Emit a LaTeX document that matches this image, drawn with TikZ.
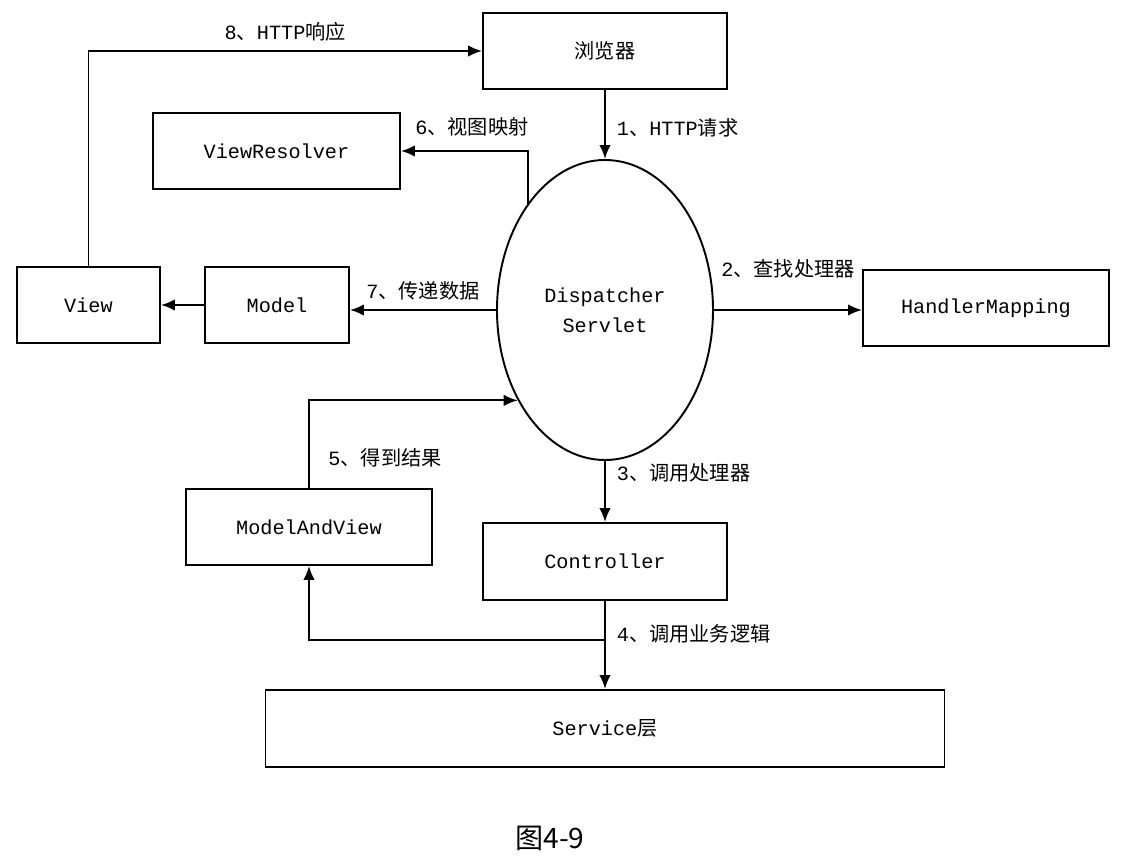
\documentclass[tikz,border=0pt]{standalone}
\usepackage{fontspec}
\setmainfont{Liberation Mono}
\newfontfamily\cjk{Noto Sans CJK SC}
\newcommand{\zh}[1]{{\cjk #1}}
\usetikzlibrary{arrows.meta,shapes.geometric}

\begin{document}
\begin{tikzpicture}[x=0.2mm,y=-0.2mm,font=\fontsize{11.5}{14}\selectfont,
  box/.style={draw,line width=1.1pt,fill=white,align=center,minimum height=15.2mm},
  hub/.style={draw,line width=1.1pt,ellipse,align=center,minimum width=43.2mm,minimum height=60mm,
    inner sep=0pt,font=\fontsize{11.5}{17}\selectfont},
  msg/.style={-{Latex[length=2.8mm,width=2.3mm]},line width=1.1pt},
  lbl/.style={inner sep=2pt}]
  \useasboundingbox (0,0) rectangle (1125,863);
  \node[box,minimum width=48.8mm] (B) at (605,51) {\zh{浏览器}};
  \node[box,minimum width=49.4mm] (VR) at (276.5,151) {ViewResolver};
  \node[box,minimum width=28.6mm] (V) at (88.5,305) {View};
  \node[box,minimum width=28.8mm] (M) at (277,305) {Model};
  \node[hub] (D) at (605,310) {Dispatcher\\Servlet};
  \node[box,minimum width=49.2mm] (HM) at (986,308) {HandlerMapping};
  \node[box,minimum width=49.2mm] (MV) at (309,527) {ModelAndView};
  \node[box,minimum width=48.8mm,minimum height=15.4mm] (C) at (605,561.5) {Controller};
  \node[box,minimum width=135.8mm,minimum height=15.4mm] (S) at (605,728.5) {Service\zh{层}};
  \node (cap) at (550,838) {\cjk\fontsize{16}{19}\selectfont 图4-9};
  \coordinate (j4) at (C.south |- 0,640);
  \draw[msg] (B) -- (D) node[lbl,pos=0.55,right=1.5mm]{1\zh{、}HTTP\zh{请求}};
  \draw[msg] (D.east) -- (D.east -| HM.west) node[lbl,midway,above=5.5mm]{2\zh{、查找处理器}};
  \draw[msg] (D) -- (C) node[lbl,pos=0.2,right=1.5mm]{3\zh{、调用处理器}};
  \draw[msg] (C) -- (S) node[lbl,pos=0.37,right=1.5mm]{4\zh{、调用业务逻辑}};
  \draw[msg] (j4) -| (MV);
  \draw[msg] (MV) |- (D.226) node[lbl,pos=0.17,right=3mm]{5\zh{、得到结果}};
  \draw[msg] (D.126) |- (VR) node[lbl,pos=0.72,above=2mm]{6\zh{、视图映射}};
  \draw[msg] (D.west) -- (D.west -| M.east) node[lbl,midway,above=1mm]{7\zh{、传递数据}};
  \draw[msg] (M) -- (V);
  \draw[msg] (V) |- (B) node[lbl,pos=0.75,above=1mm]{8\zh{、}HTTP\zh{响应}};
\end{tikzpicture}
\end{document}
